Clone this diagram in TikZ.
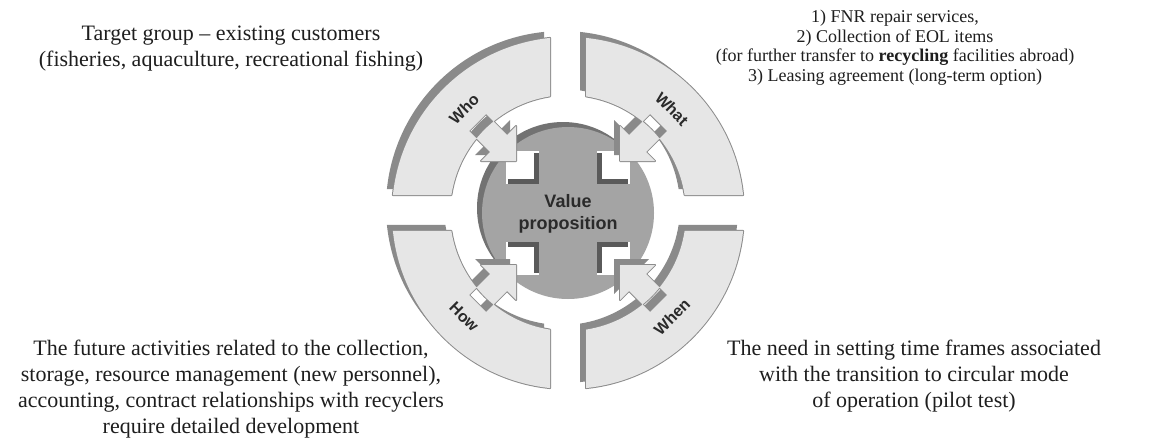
\documentclass[tikz,border=0pt]{standalone}
\usepackage{fontspec}
\setmainfont{Liberation Serif}
\newfontfamily\lblfont{Liberation Sans}
\definecolor{ringfill}{HTML}{E6E6E6}
\definecolor{ringline}{HTML}{8C8C8C}
\definecolor{ringside}{HTML}{8A8A8A}
\definecolor{hubfill}{HTML}{A4A4A4}
\definecolor{hubside}{HTML}{727272}
\definecolor{notchside}{HTML}{5A5A5A}
\definecolor{inktext}{HTML}{1E1E1E}
\definecolor{lbltext}{HTML}{2A2A2A}
% ring geometry
\def\Ro{176}
\def\Ri{118}
\pgfmathsetmacro\aO{asin(18/176)}
\pgfmathsetmacro\aI{asin(18/118)}
% upper-left ring segment and its inward arrow, centre at the origin
\newcommand\segpath{(180-\aO:\Ro) arc[start angle=180-\aO, end angle=90+\aO, radius=\Ro] -- (90+\aI:\Ri) arc[start angle=90+\aI, end angle=180-\aI, radius=\Ri] -- cycle}
\newcommand\arrpath{(-52,52) -- (-52,87) -- (-61,78) -- (-82,99) -- (-99,82) -- (-78,61) -- (-87,52) -- cycle}
\begin{document}
\begin{tikzpicture}[x=1pt,y=1pt,
  note/.style={align=center, inner sep=0pt, anchor=north, text=inktext},
  bignote/.style={note, font=\fontsize{22}{26}\selectfont},
  smallnote/.style={note, font=\fontsize{18}{19.5}\selectfont},
  seglabel/.style={font=\lblfont\bfseries\fontsize{16}{19}\selectfont, text=lbltext, inner sep=0pt},
  hublabel/.style={align=center, font=\lblfont\bfseries\fontsize{18}{22}\selectfont, text=lbltext, inner sep=0pt}]
\useasboundingbox (0,0) rectangle (1170,-444);
\fill[white] (0,0) rectangle (1170,-444);

\begin{scope}[shift={(568,-213)}]
  % central hub with its raised rim
  \fill[hubside] (-5,5) circle[radius=86];
  \fill[hubfill] (0,0) circle[radius=86];
  % notches at the four inner corners of the cross
  \foreach \sx/\sy in {1/1,-1/1,1/-1,-1/-1}{
    \begin{scope}[xscale=\sx, yscale=\sy]
      \fill[white] (-29,29) rectangle (-62,62);
      \fill[notchside] (-29,29) rectangle (-34,60);
      \fill[notchside] (-29,29) rectangle (-60,34);
    \end{scope}
  }
  % raised sides of the four ring segments
  \foreach \sx/\sy in {1/1,-1/1,1/-1,-1/-1}{
    \fill[ringside, shift={(-6,6)}, xscale=\sx, yscale=\sy] \segpath \arrpath;
  }
  % outlines, then faces
  \foreach \sx/\sy in {1/1,-1/1,1/-1,-1/-1}{
    \draw[ringline, line width=2pt, line join=round, xscale=\sx, yscale=\sy] \segpath \arrpath;
  }
  \foreach \sx/\sy in {1/1,-1/1,1/-1,-1/-1}{
    \fill[ringfill, xscale=\sx, yscale=\sy] \segpath \arrpath;
  }
  \node[seglabel, rotate=45]  (who)  at (135:147) {Who};
  \node[seglabel, rotate=-45] (what) at (45:147)  {What};
  \node[seglabel, rotate=-45] (how)  at (225:147) {How};
  \node[seglabel, rotate=45]  (when) at (315:147) {When};
  \node[hublabel] (vp) at (0,-1) {Value\\proposition};
\end{scope}

\node[bignote] (who-text) at (231,-26)
  {Target group – existing customers\\(fisheries, aquaculture, recreational fishing)};
\node[smallnote] (what-text) at (895,-10)
  {1) FNR repair services,\\2) Collection of EOL items\\(for further transfer to \textbf{recycling} facilities abroad)\\3) Leasing agreement (long-term option)};
\node[bignote] (how-text) at (231,-340)
  {The future activities related to the collection,\\storage, resource management (new personnel),\\accounting, contract relationships with recyclers\\require detailed development};
\node[bignote] (when-text) at (914,-340)
  {The need in setting time frames associated\\with the transition to circular mode\\of operation (pilot test)};
\end{tikzpicture}
\end{document}
